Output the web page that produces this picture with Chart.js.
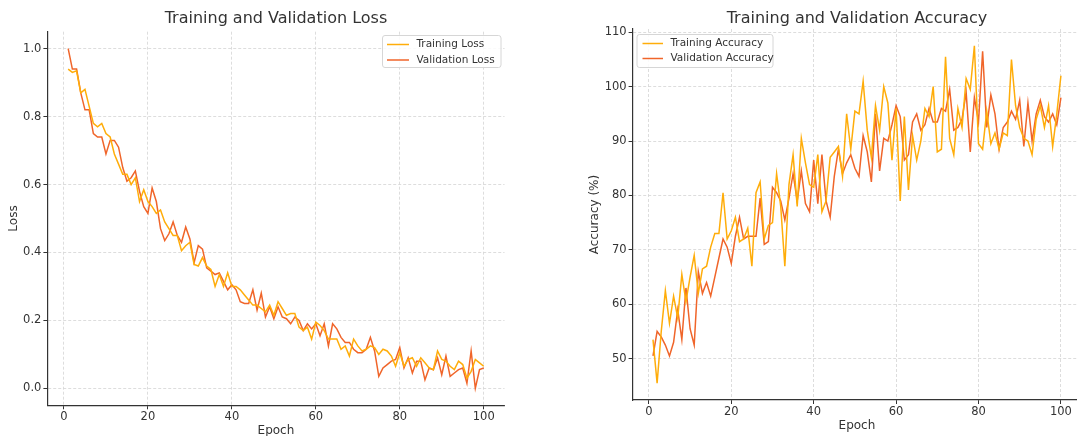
<!DOCTYPE html>
<html>
<head>
<meta charset="utf-8">
<script src="https://cdn.jsdelivr.net/npm/chart.js@4.4.0/dist/chart.umd.min.js"></script>
<style>
  html, body { margin: 0; padding: 0; background: #fff; overflow: hidden; width: 1077px; height: 436px; }
  #lossWrap { position: absolute; left: 0; top: 0; width: 540px; height: 436px; }
  #accWrap { position: absolute; left: 540px; top: 0; width: 560px; height: 436px; }
</style>
</head>
<body>
<div id="lossWrap"><canvas id="lossChart" width="540" height="436"></canvas></div>
<div id="accWrap"><canvas id="accChart" width="560" height="436"></canvas></div>
<script>
const epochs = [1,2,3,4,5,6,7,8,9,10,11,12,13,14,15,16,17,18,19,20,
  21,22,23,24,25,26,27,28,29,30,31,32,33,34,35,36,37,38,39,40,
  41,42,43,44,45,46,47,48,49,50,51,52,53,54,55,56,57,58,59,60,
  61,62,63,64,65,66,67,68,69,70,71,72,73,74,75,76,77,78,79,80,
  81,82,83,84,85,86,87,88,89,90,91,92,93,94,95,96,97,98,99,100];

const trainLoss = [0.94,0.93,0.935,0.87,0.88,0.83,0.78,0.77,0.78,0.75,
  0.74,0.69,0.66,0.63,0.63,0.60,0.62,0.55,0.585,0.55,
  0.535,0.515,0.525,0.49,0.47,0.45,0.45,0.405,0.42,0.43,
  0.365,0.36,0.385,0.36,0.35,0.30,0.335,0.30,0.34,0.30,
  0.30,0.29,0.275,0.26,0.245,0.245,0.235,0.225,0.245,0.215,
  0.255,0.235,0.215,0.22,0.22,0.18,0.17,0.18,0.145,0.195,
  0.185,0.17,0.145,0.145,0.145,0.115,0.125,0.095,0.145,0.125,
  0.11,0.115,0.125,0.12,0.10,0.115,0.11,0.095,0.065,0.105,
  0.065,0.085,0.09,0.065,0.09,0.075,0.06,0.055,0.11,0.085,
  0.08,0.065,0.055,0.08,0.07,0.03,0.05,0.085,0.075,0.065];

const valLoss = [1.0,0.94,0.94,0.87,0.82,0.82,0.75,0.74,0.74,0.69,
  0.73,0.73,0.71,0.65,0.61,0.62,0.64,0.58,0.535,0.515,
  0.59,0.55,0.47,0.435,0.455,0.49,0.45,0.43,0.475,0.44,
  0.37,0.42,0.41,0.355,0.345,0.335,0.34,0.315,0.29,0.305,
  0.29,0.255,0.25,0.25,0.29,0.23,0.28,0.21,0.24,0.205,
  0.24,0.21,0.205,0.19,0.21,0.20,0.17,0.19,0.175,0.19,
  0.155,0.19,0.125,0.19,0.175,0.15,0.135,0.135,0.115,0.105,
  0.105,0.115,0.15,0.11,0.035,0.06,0.07,0.08,0.085,0.12,
  0.06,0.09,0.045,0.08,0.08,0.025,0.06,0.055,0.09,0.04,
  0.095,0.035,0.045,0.055,0.06,0.015,0.11,0.0,0.055,0.06];

const trainAcc = [53.5,45.5,55,62.5,56.5,61.5,57.5,65.5,60.5,65,
  69,62,66.5,67,70.5,73,73,80.5,72,73.5,
  76,71.5,72,74,67,80.5,82.5,72,74.5,75,
  84,78,67,82,87.5,78,90.5,86,82,81.5,
  87.5,77,79,87,88,89,83.5,95,88.5,95.5,
  95,101,92,87,96.5,92,100,97,86.5,96,
  79,94.5,81,91,86.5,90,96,94.5,100,88,
  88.5,105.5,90.5,87.5,96,92.5,101.5,99.5,107.5,89.5,
  88.5,95.5,89.5,91.5,88.5,91.5,91,105,96.5,92.5,
  90.5,90,87.5,94,96.5,92.5,96.5,89,95,102];

const valAcc = [50.5,55,54,52.5,50.5,53,59,53.5,63,55.5,
  52.5,66,62,64,61.5,65,68.5,72,70.5,67.5,
  72.5,76,72,72.5,72.5,72.5,79.5,71,71.5,81.5,
  80.5,79,75.5,79.5,84,79,84.5,78.5,77,86.5,
  78.5,87.5,79,76,83.5,88.5,84,86,87.5,85,
  83.5,91,88,82.5,95,84.5,90.5,90,93,96.5,
  94.5,86.5,87.5,93.5,95,92,93,96,93.5,93.5,
  96,95.5,99.5,92,92.5,94,99,88,98,93.5,
  106.5,92.5,98.5,95,88.5,92.5,93.5,95.5,94,97.5,
  89,97,90,95,97.5,94.5,93.5,95,93,98];

const epochTicks = [0, 20, 40, 60, 80, 100];
const lossTicks = [0.0, 0.2, 0.4, 0.6, 0.8, 1.0];
const accTicks = [50, 60, 70, 80, 90, 100, 110];

const trainColor = '#ffad0a';
const valColor = '#f0652a';
const textColor = '#333333';
const fontFamily = "'DejaVu Sans', sans-serif";

// draws title, axis titles and the legend box
const decor = {
  id: 'decor',
  afterDraw(chart, args, o) {
    const ctx = chart.ctx;
    const ca = chart.chartArea;
    ctx.save();
    ctx.fillStyle = textColor;
    ctx.textAlign = 'center';
    ctx.textBaseline = 'middle';
    ctx.font = '16px ' + fontFamily;
    ctx.fillText(o.title, (ca.left + ca.right) / 2, o.titleY);
    ctx.font = '12px ' + fontFamily;
    ctx.fillText(o.xTitle, (ca.left + ca.right) / 2, o.xTitleY);
    ctx.save();
    ctx.translate(o.yTitleX, (ca.top + ca.bottom) / 2);
    ctx.rotate(-Math.PI / 2);
    ctx.fillText(o.yTitle, 0, 0);
    ctx.restore();

    const L = o.legend;
    ctx.beginPath();
    ctx.roundRect(L.x, L.y, L.w, L.h, 2.5);
    ctx.fillStyle = 'rgba(255,255,255,0.85)';
    ctx.fill();
    ctx.strokeStyle = '#d6d6d6';
    ctx.lineWidth = 1;
    ctx.stroke();
    ctx.font = '10.5px ' + fontFamily;
    ctx.textAlign = 'left';
    chart.data.datasets.forEach((ds, i) => {
      const y = L.rowY[i];
      ctx.beginPath();
      ctx.moveTo(L.x1, y);
      ctx.lineTo(L.x2, y);
      ctx.strokeStyle = ds.borderColor;
      ctx.lineWidth = 1.5;
      ctx.stroke();
      ctx.fillStyle = textColor;
      ctx.fillText(ds.label, L.tx, y);
    });
    ctx.restore();
  }
};

function axisOpts(ticksArr, min, max, fit) {
  return {
    type: 'linear',
    min: min,
    max: max,
    afterBuildTicks: s => { s.ticks = ticksArr.map(v => ({ value: v })); },
    afterFit: fit,
    grid: { color: '#d4d4d4', lineWidth: 0.8, tickLength: 4, tickColor: '#333', tickWidth: 1 },
    border: { display: true, color: '#333', width: 1.2, dash: [3, 2] },
    ticks: {
      color: textColor,
      font: { family: fontFamily, size: 11.5 },
      padding: 2,
      maxRotation: 0,
      autoSkip: false,
      callback: v => (min < 2 ? v.toFixed(1) : String(v))
    }
  };
}

function lineSet(label, data, color) {
  return { label: label, data: data, borderColor: color, backgroundColor: color,
           borderWidth: 1.5, pointRadius: 0, tension: 0, fill: false };
}

new Chart(document.getElementById('lossChart'), {
  type: 'line',
  data: {
    labels: epochs,
    datasets: [
      lineSet('Training Loss', trainLoss, trainColor),
      lineSet('Validation Loss', valLoss, valColor)
    ]
  },
  options: {
    responsive: false,
    animation: false,
    devicePixelRatio: 1,
    layout: { padding: { left: 0, right: 35.5, top: 31.7, bottom: 0 } },
    scales: {
      x: Object.assign(axisOpts(epochTicks, -3.95, 104.95, s => { s.height = 30.7; }),
        { ticks: { color: textColor, font: { family: fontFamily, size: 11.5 }, padding: 1, maxRotation: 0, autoSkip: false } }),
      y: axisOpts(lossTicks, -0.05, 1.05, s => { s.width = 47.4; })
    },
    plugins: {
      legend: { display: false },
      tooltip: { enabled: false },
      decor: {
        title: 'Training and Validation Loss', titleY: 19,
        xTitle: 'Epoch', xTitleY: 431,
        yTitle: 'Loss', yTitleX: 14,
        legend: { x: 382.5, y: 35.5, w: 118.5, h: 32, x1: 387, x2: 409, tx: 416.5, rowY: [44.5, 60] }
      }
    }
  },
  plugins: [decor]
});

new Chart(document.getElementById('accChart'), {
  type: 'line',
  data: {
    labels: epochs,
    datasets: [
      lineSet('Training Accuracy', trainAcc, trainColor),
      lineSet('Validation Accuracy', valAcc, valColor)
    ]
  },
  options: {
    responsive: false,
    animation: false,
    devicePixelRatio: 1,
    layout: { padding: { left: 0, right: 18.7, top: 29, bottom: 0 } },
    scales: {
      x: Object.assign(axisOpts(epochTicks, -3.95, 104.95, s => { s.height = 36; }),
        { ticks: { color: textColor, font: { family: fontFamily, size: 11.5 }, padding: 1, maxRotation: 0, autoSkip: false } }),
      y: axisOpts(accTicks, 42.4, 110.6, s => { s.width = 92.6; })
    },
    plugins: {
      legend: { display: false },
      tooltip: { enabled: false },
      decor: {
        title: 'Training and Validation Accuracy', titleY: 18.5,
        xTitle: 'Epoch', xTitleY: 425.5,
        yTitle: 'Accuracy (%)', yTitleX: 55,
        legend: { x: 97, y: 34.5, w: 136, h: 33, x1: 102.5, x2: 123, tx: 130.5, rowY: [43.5, 58.5] }
      }
    }
  },
  plugins: [decor]
});
</script>
</body>
</html>
